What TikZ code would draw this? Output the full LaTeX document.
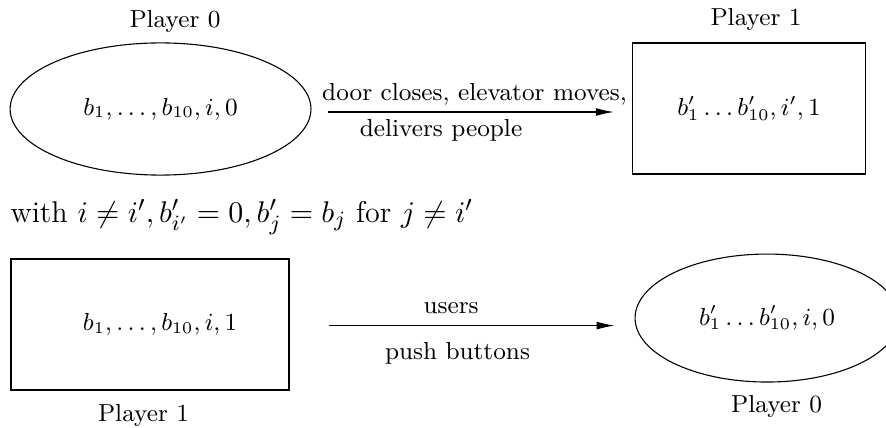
\documentclass[tikz,border=0pt]{standalone}
\usepackage{amsmath,amssymb}
\usepackage{tikz}
\usetikzlibrary{shapes.geometric, positioning, calc, arrows.meta}

\begin{document}
\begin{tikzpicture}[
  font=\small,
  pzero/.style={draw, ellipse, inner sep=0pt},
  pone/.style={draw, rectangle, inner sep=0pt},
  player/.style={inner sep=0pt},
  move/.style={-{Latex[length=6.6pt,width=2.9pt]}}
]
  \clip (0,0) rectangle (11.397,5.493);

  % --- TOP ROW: PLAYER 0 ---
  \node[pzero, minimum width=3.87cm, minimum height=1.70cm] (s0) at (2.065,4.091) {$b_1,\ldots,b_{10},i,0$};
  \node[pone, minimum width=3.0cm, minimum height=1.685cm] (s1) at (9.635,4.097) {$b'_1\ldots b'_{10},i',1$};
  \node[player] (p0top) at (2.251,5.223) {Player 0};
  \node[player] (p1top) at (9.725,5.236) {Player 1};

  % Elevator move
  \coordinate (a0) at ([yshift=-1.1pt]s0.east);
  \draw[move, shorten <=5.9pt, shorten >=6.6pt] (a0) -- (a0 -| s1.west);
  \node (mvtop) at (6.104,4.284) {door closes, elevator moves,};
  \node (mvbot) at (5.673,3.821) {delivers people};

  % Side condition
  \node[anchor=west, inner sep=0pt, font=\fontsize{11}{13.5}\selectfont] (cond) at (0.129,2.701) {with $i\neq i', b'_{i'}=0, b'_j=b_j$ for $j\neq i'$};

  % --- BOTTOM ROW: PLAYER 1 ---
  \node[pone, minimum width=3.576cm, minimum height=1.685cm] (s2) at (1.930,1.319) {\hspace{0.26cm}$b_1,\ldots,b_{10},i,1$};
  \node[pzero, minimum width=3.396cm, minimum height=1.646cm] (s3) at (9.867,1.402) {$b'_1\ldots b'_{10},i,0$};
  \node[player] (p1bot) at (1.846,0.154) {Player 1};
  \node[player] (p0bot) at (9.989,0.270) {Player 0};

  % Users move
  \coordinate (a2) at ([yshift=-0.4pt]s2.east);
  \draw[move, shorten <=14.3pt, shorten >=7.3pt] (a2) -- (a2 -| s3.west);
  \node (ustop) at (5.802,1.531) {users};
  \node (usbot) at (5.885,0.952) {push buttons};
\end{tikzpicture}
\end{document}
